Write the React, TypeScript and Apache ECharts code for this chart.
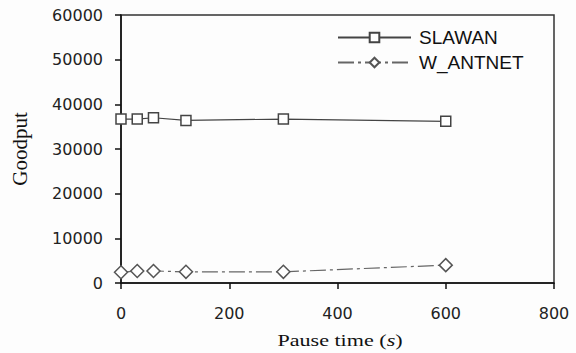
import React, { useEffect, useRef } from "react";
import * as echarts from "echarts";

const pauseTimes = [0, 30, 60, 120, 300, 600];
const slawan = [36700, 36700, 37000, 36400, 36700, 36200];
const wAntnet = [2400, 2700, 2700, 2500, 2500, 4000];
const seriesNames = ["SLAWAN", "W_ANTNET"];
const xTitle = "Pause time ({i|s})";
const yTitle = "Goodput";

export default function App() {
  const ref = useRef<HTMLDivElement>(null);
  useEffect(() => {
    if (!ref.current) return;
    const chart = echarts.init(ref.current, null, { renderer: "svg" });
    const tickFont = { fontFamily: "DejaVu Sans", fontSize: 16, color: "#222" };
    const fmt = (v: number) => String(v);
    chart.setOption({
      animation: false,
      backgroundColor: "#fdfdfd",
      grid: {
        left: 121,
        top: 15,
        width: 433,
        height: 268,
        show: true,
        borderColor: "#333",
        borderWidth: 1.5,
        backgroundColor: "transparent",
      },
      legend: {
        orient: "vertical",
        left: 332,
        top: 23,
        itemWidth: 73,
        itemHeight: 12,
        itemGap: 6,
        textStyle: { fontFamily: "Liberation Sans", fontSize: 19, color: "#111", padding: [0, 0, 0, 3] },
        data: seriesNames,
      },
      xAxis: {
        type: "value",
        min: 0,
        max: 800,
        interval: 200,
        axisLine: { show: true, lineStyle: { color: "#111", width: 1.5 } },
        axisTick: { show: true, length: 6, lineStyle: { color: "#111", width: 1.5 } },
        axisLabel: { ...tickFont, margin: 22, formatter: fmt },
        splitLine: { show: false },
      },
      yAxis: {
        type: "value",
        min: 0,
        max: 60000,
        interval: 10000,
        name: yTitle,
        nameLocation: "middle",
        nameRotate: 90,
        nameGap: 91,
        nameTextStyle: { fontFamily: "Liberation Serif", fontSize: 21, color: "#111" },
        axisLine: { show: true, lineStyle: { color: "#111", width: 1.5 } },
        axisTick: { show: true, length: 6, lineStyle: { color: "#111", width: 1.5 } },
        axisLabel: { ...tickFont, margin: 18, formatter: fmt },
        splitLine: { show: false },
      },
      series: [
        {
          name: seriesNames[0],
          type: "line",
          data: pauseTimes.map((x, i) => [x, slawan[i]]),
          symbol: "rect",
          symbolSize: 10,
          lineStyle: { color: "#444", width: 1.2 },
          itemStyle: { color: "#fff", borderColor: "#444", borderWidth: 1.5 },
        },
        {
          name: seriesNames[1],
          type: "line",
          data: pauseTimes.map((x, i) => [x, wAntnet[i]]),
          symbol: "diamond",
          symbolSize: 13,
          lineStyle: { color: "#666", width: 1.2, type: [16, 4, 3, 4] },
          itemStyle: { color: "#fff", borderColor: "#555", borderWidth: 1.5 },
        },
      ],
      graphic: [
        {
          type: "text",
          x: 340,
          y: 340,
          scaleX: 1.3,
          style: {
            text: xTitle,
            font: "17px 'Liberation Serif'",
            fill: "#111",
            align: "center",
            verticalAlign: "middle",
            rich: { i: { fontStyle: "italic", fontFamily: "Liberation Serif", fontSize: 17 } },
          },
        },
      ],
    });
    return () => chart.dispose();
  }, []);
  return (
    <div
      ref={ref}
      style={{ position: "absolute", left: 0, top: 0, width: 576, height: 353 }}
    />
  );
}
